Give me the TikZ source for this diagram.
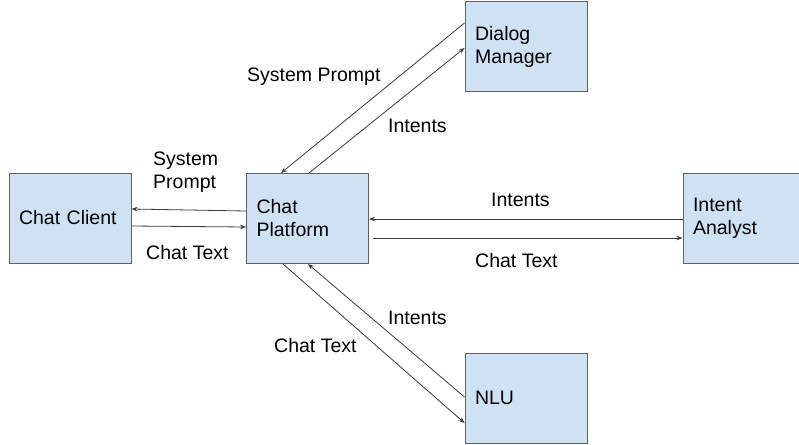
\documentclass[tikz,border=0pt]{standalone}
\usepackage{fontspec}
\setmainfont{Liberation Sans}
\usetikzlibrary{arrows.meta}
\definecolor{boxfill}{HTML}{CFE2F3}
\definecolor{boxline}{HTML}{5F5F5F}
\definecolor{wire}{HTML}{3A3A3A}
\begin{document}
\begin{tikzpicture}[x=1pt,y=-1pt,
  box/.style={draw=boxline, fill=boxfill, line width=1pt, minimum width=122pt, minimum height=90pt, text width=102pt, align=left, inner sep=0pt, font=\fontsize{19.5}{23}\selectfont},
  lbl/.style={inner sep=0pt, anchor=base west, font=\fontsize{19.5}{23}\selectfont},
  arr/.style={draw=wire, line width=0.8pt, -{Stealth[length=6pt,width=4.5pt]}}]
\useasboundingbox (0,0) rectangle (799,444);
\clip (0,0) rectangle (799,444);
\node[box] (client) at (70,218) {Chat Client};
\node[box] (platform) at (307.5,218.5) {Chat\\Platform};
\node[box] (dialog) at (526,46.5) {Dialog\\Manager};
\node[box] (analyst) at (744,218) {Intent\\Analyst};
\node[box] (nlu) at (526,398) {NLU};
\draw[arr] ([yshift=7.5pt]platform.west) -- ([yshift=9pt]client.east);
\draw[arr] ([yshift=-8pt]client.east) -- ([yshift=-8.5pt]platform.west);
\draw[arr] ([yshift=-1pt]analyst.west) -- ([yshift=-0.5pt]platform.east);
\draw[arr] ([xshift=4pt,yshift=-19.5pt]platform.east) -- ([yshift=-20pt]analyst.west);
\draw[arr] ([yshift=23.5pt]dialog.west) -- ([xshift=-26.5pt]platform.north);
\draw[arr] ([xshift=1.5pt]platform.north) -- ([yshift=-1.5pt]dialog.west);
\draw[arr] ([xshift=-24.5pt]platform.south) -- ([yshift=-25pt]nlu.west);
\draw[arr] ([yshift=1pt]nlu.west) -- ([xshift=0.5pt]platform.south);
\node[lbl] (promptdm) at (247,81) {System Prompt};
\node[lbl] (intentsdm) at (388,132) {Intents};
\node[lbl, anchor=west, align=left] (promptcc) at (153,172) {System\\Prompt};
\node[lbl] (textcc) at (146,259) {Chat Text};
\node[lbl] (intentsia) at (491,206) {Intents};
\node[lbl] (textia) at (475,267) {Chat Text};
\node[lbl] (intentsnlu) at (388,324) {Intents};
\node[lbl] (textnlu) at (274,352) {Chat Text};
\end{tikzpicture}
\end{document}
